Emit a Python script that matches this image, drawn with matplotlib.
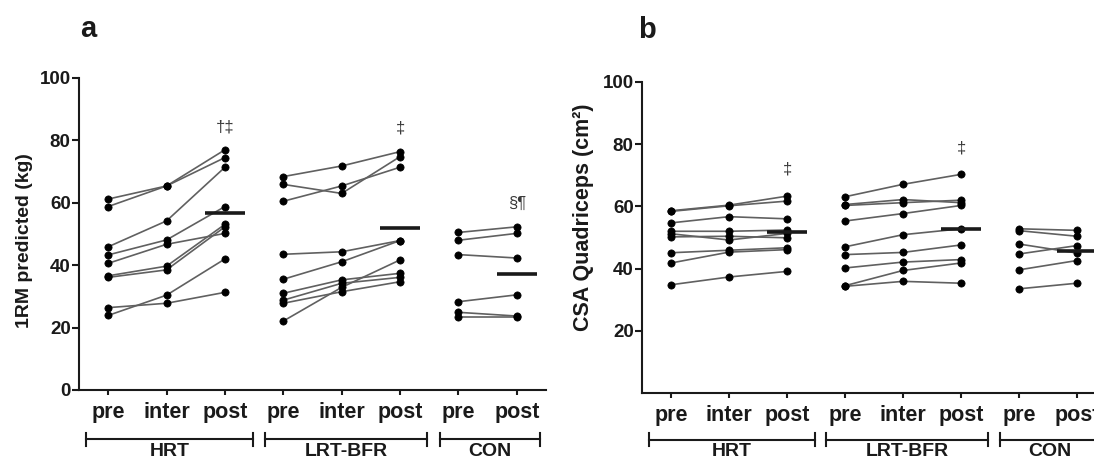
import numpy as np
import matplotlib
matplotlib.use("Agg")
import matplotlib.pyplot as plt
from matplotlib.transforms import blended_transform_factory

plt.rcParams['font.family'] = ['Liberation Sans', 'DejaVu Sans']

# ---------------- data ----------------
groups = ["HRT", "LRT-BFR", "CON"]
group_positions = [[0, 1, 2], [3, 4, 5], [6, 7]]
tick_labels = ["pre", "inter", "post", "pre", "inter", "post", "pre", "post"]

# Panel a: 1RM predicted (kg), one row per subject
hrt_1rm = [[61.2, 65.4, 77.0], [58.8, 65.4, 74.5], [45.9, 54.2, 71.4],
           [43.3, 48.1, 58.8], [40.6, 46.7, 50.2], [36.6, 39.7, 53.1],
           [36.1, 38.5, 52.3], [26.4, 27.8, 31.3], [23.9, 30.4, 42.0]]
lrt_1rm = [[68.4, 71.8, 76.4], [65.9, 63.0, 74.8], [60.5, 65.4, 71.4],
           [43.5, 44.3, 47.9], [35.5, 41.1, 47.9], [31.0, 35.3, 37.4],
           [28.8, 34.2, 36.1], [27.8, 31.5, 34.7], [22.1, 32.9, 41.7]]
con_1rm = [[50.5, 52.3], [48.0, 50.2], [43.4, 42.3], [28.3, 30.5],
           [24.9, 23.7], [23.4, 23.4]]

# Panel b: CSA Quadriceps (cm2)
hrt_csa = [[58.6, 60.4, 63.3], [58.4, 60.2, 61.7], [54.7, 56.7, 56.0],
           [52.0, 52.0, 52.4], [51.2, 49.2, 51.3], [50.2, 50.4, 49.9],
           [45.1, 45.9, 46.7], [41.8, 45.3, 46.1], [34.8, 37.3, 39.1]]
lrt_csa = [[63.1, 67.1, 70.3], [60.6, 62.2, 61.2], [60.3, 61.2, 62.0],
           [55.3, 57.7, 60.3], [47.0, 50.9, 52.8], [44.5, 45.2, 47.6],
           [40.2, 42.1, 42.9], [34.5, 39.4, 41.8], [34.3, 35.9, 35.3]]
con_csa = [[52.8, 52.3], [52.2, 50.4], [47.9, 45.0], [44.7, 47.4],
           [39.6, 42.6], [33.5, 35.3]]

# significance marks: (x position, y value, text)
marks_1rm = [(2, 84.3, "†‡"), (5, 84.0, "‡"), (7, 59.8, "§¶")]
marks_csa = [(2, 71.9, "‡"), (5, 78.9, "‡")]

ylabel_1rm = "1RM predicted (kg)"
ylabel_csa = "CSA Quadriceps (cm²)"

# ---------------- figure ----------------
fig = plt.figure(figsize=(10.94, 4.59), dpi=100)
W, H = 1094, 459

def make_axes(left_px, top_px, bottom_px, width_px):
    return fig.add_axes([left_px / W, 1 - bottom_px / H,
                         width_px / W, (bottom_px - top_px) / H])

ax_a = make_axes(79, 78, 390, 467)
ax_b = make_axes(642, 82, 393, 464)

bracket_ext = [(-0.38, 2.48), (2.68, 5.47), (5.68, 7.40)]


def draw_panel(ax, datasets, marks, ylabel, yticks, ylab_xy, bracket_y):
    for pos, data in zip(group_positions, datasets):
        for subj in data:
            ax.plot(pos, subj, '-', color='#606060', lw=1.2, zorder=2,
                    solid_capstyle='round')
            ax.plot(pos, subj, 'o', color='black', ms=5.2, zorder=3,
                    mec='black', mew=0.5)
        post_vals = [s[-1] for s in data]
        m = np.mean(post_vals)
        ax.plot([pos[-1] - 0.34, pos[-1] + 0.34], [m, m], '-', color='#1a1a1a',
                lw=2.6, zorder=4, clip_on=False, solid_capstyle='butt')
    for x, y, t in marks:
        ax.text(x, y, t, ha='center', va='center', fontsize=12,
                color='#3a3a3a')

    ax.set_xlim(-0.5, 7.5)
    ax.set_ylim(0, 100)
    ax.set_yticks(yticks)
    ax.set_xticks(range(8))
    ax.set_xticklabels(tick_labels)
    for sp in ['top', 'right']:
        ax.spines[sp].set_visible(False)
    for sp in ['left', 'bottom']:
        ax.spines[sp].set_linewidth(1.5)
        ax.spines[sp].set_color('#1a1a1a')
    ax.tick_params(axis='y', length=5, width=1.5, pad=1, labelsize=13.5,
                   colors='#1a1a1a')
    ax.tick_params(axis='x', length=3.6, width=1.5, pad=5.2, labelsize=15.5,
                   colors='#1a1a1a')
    for lab in ax.get_xticklabels() + ax.get_yticklabels():
        lab.set_fontweight('bold')

    ax.text(ylab_xy[0], ylab_xy[1], ylabel, transform=ax.transAxes,
            rotation=90, ha='center', va='center', fontsize=ylab_xy[2],
            fontweight='bold', color='#1a1a1a')

    tr = blended_transform_factory(ax.transData, ax.transAxes)
    cap = 0.021
    for (x0, x1), g in zip(bracket_ext, groups):
        ax.plot([x0, x1], [bracket_y, bracket_y], '-', color='#1a1a1a',
                lw=1.5, transform=tr, clip_on=False)
        for xc in (x0, x1):
            ax.plot([xc, xc], [bracket_y - cap, bracket_y + cap], '-',
                    color='#1a1a1a', lw=1.5, transform=tr, clip_on=False)
        ax.text((x0 + x1) / 2, bracket_y - 0.012, g, transform=tr,
                ha='center', va='top', fontsize=14, fontweight='bold',
                color='#1a1a1a')


draw_panel(ax_a, [hrt_1rm, lrt_1rm, con_1rm], marks_1rm, ylabel_1rm,
           [0, 20, 40, 60, 80, 100], (-0.116, 0.48, 14), -0.158)
draw_panel(ax_b, [hrt_csa, lrt_csa, con_csa], marks_csa, ylabel_csa,
           [20, 40, 60, 80, 100], (-0.127, 0.566, 15.5), -0.150)

fig.text(80 / W, 1 - 37 / H, "a", fontsize=21, fontweight='bold',
         ha='left', va='baseline', color='#1a1a1a')
fig.text(638 / W, 1 - 38 / H, "b", fontsize=21, fontweight='bold',
         ha='left', va='baseline', color='#1a1a1a')

fig.savefig("out.png", dpi=100)
